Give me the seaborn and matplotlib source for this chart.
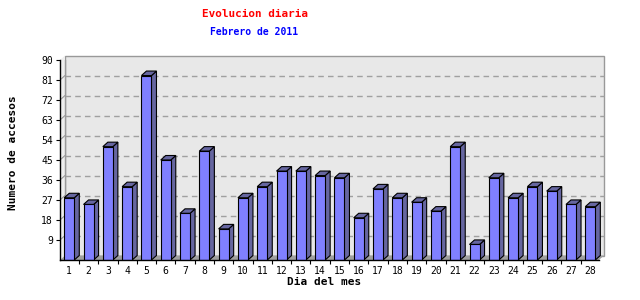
import matplotlib
matplotlib.use("Agg")
import matplotlib.pyplot as plt
import matplotlib.transforms as mtransforms
from matplotlib.patches import Polygon, Rectangle
from matplotlib.lines import Line2D
import numpy as np
import pandas as pd
import seaborn as sns

# ---- data ----
dias = [str(d) for d in range(1, 29)]
accesos = [28, 25, 51, 33, 83, 45, 21, 49, 14, 28, 33, 40, 40, 38,
           37, 19, 32, 28, 26, 22, 51, 7, 37, 28, 33, 31, 25, 24]
yticks = [9, 18, 27, 36, 45, 54, 63, 72, 81, 90]
title = "Evolucion diaria"
subtitle = "Febrero de 2011"
xlabel = "Dia del mes"
ylabel = "Numero de accesos"

sns.set_style("white")
plt.rcParams['font.family'] = ['DejaVu Sans Mono', 'DejaVu Sans']

DPI = 100
fig = plt.figure(figsize=(6.4, 3.0), dpi=DPI)
ax = fig.add_axes([60 / 640, 40 / 300, (599 - 60) / 640, 200 / 300])
ax.set_facecolor("none")

df = pd.DataFrame({"dia": dias, "accesos": accesos})
sns.barplot(data=df, x="dia", y="accesos", order=dias, color="#8080FF",
            saturation=1, edgecolor="black", linewidth=0.8, width=0.52,
            ax=ax, zorder=3)
bars = list(ax.patches)

ax.set_xlim(-0.48, 27.45)
ax.set_ylim(0, 90)

DX, DY = 5.0, 4.5  # depth in pixels
off = mtransforms.ScaledTranslation(DX / DPI, DY / DPI, fig.dpi_scale_trans)
ident = mtransforms.IdentityTransform()

# back wall
ax.add_patch(Rectangle((0, 0), 1, 1, transform=ax.transAxes + off,
                       facecolor="#E8E8E8", edgecolor="#999999", lw=1.0,
                       zorder=0, clip_on=False))
# left side wall
fig.canvas.draw()
p00 = ax.transAxes.transform((0, 0))
p01 = ax.transAxes.transform((0, 1))
p10 = ax.transAxes.transform((1, 0))
d = np.array([DX, DY])
ax.add_patch(Polygon([p00, p01, p01 + d, p00 + d], closed=True,
                     transform=ident, facecolor="#EEEEEE", edgecolor="none",
                     zorder=0.5, clip_on=False))
ax.add_line(Line2D([p00[0] + DX, p01[0] + DX], [p00[1] + DY, p01[1] + DY],
                   transform=ident, color="#999999", lw=1.0, zorder=1))
# floor
ax.add_patch(Polygon([p00, p10, p10 + d, p00 + d], closed=True,
                     transform=ident, facecolor="#A0A0A0", edgecolor="none",
                     zorder=1, clip_on=False))

# gridlines on back wall + diagonal links on side wall
for v in yticks[:-1]:
    ax.add_line(Line2D([0, 1], [v, v], transform=ax.get_yaxis_transform() + off,
                       color="#A0A0A0", lw=1.0, ls=(0, (4, 3)), zorder=1,
                       clip_on=False))
for v in yticks:
    pf = ax.transData.transform((ax.get_xlim()[0], v))
    ax.add_line(Line2D([pf[0], pf[0] + DX], [pf[1], pf[1] + DY],
                       transform=ident, color="#999999", lw=0.8, zorder=1))

# 3D sides and tops of bars
for p in bars:
    x, w, h = p.get_x(), p.get_width(), p.get_height()
    bl = ax.transData.transform((x, 0))
    tr = ax.transData.transform((x + w, h))
    side = [(tr[0], bl[1]), (tr[0], tr[1]), (tr[0] + DX, tr[1] + DY),
            (tr[0] + DX, bl[1] + DY)]
    top = [(bl[0], tr[1]), (tr[0], tr[1]), (tr[0] + DX, tr[1] + DY),
           (bl[0] + DX, tr[1] + DY)]
    for poly in (side, top):
        ax.add_patch(Polygon(poly, closed=True, transform=ident,
                             facecolor="#6666A0", edgecolor="black", lw=0.8,
                             zorder=2.5, clip_on=False))

# spines & ticks
for s in ("top", "right"):
    ax.spines[s].set_visible(False)
for s in ("left", "bottom"):
    ax.spines[s].set_color("black")
    ax.spines[s].set_linewidth(1.0)
    ax.spines[s].set_zorder(4)

ax.set_yticks(yticks)
ax.set_yticklabels([str(v) for v in yticks])
ax.tick_params(axis="y", direction="out", length=3, width=0.8, colors="black",
               labelsize=7, pad=2, left=True)
ax.set_xticks(range(len(dias)))
ax.set_xticklabels(dias)
ax.tick_params(axis="x", which="major", length=0, labelsize=7, pad=4,
               colors="black")
ax.set_xticks(np.arange(0.5, len(dias) - 1, 1.0), minor=True)
ax.tick_params(axis="x", which="minor", length=3, width=0.8, direction="out",
               bottom=True, color="black")
ax.set_xlabel("")
ax.set_ylabel("")

fig.text(255 / 640, 1 - 14 / 300, title, color="#FF0000", fontsize=7.9,
         fontweight="bold", ha="center", va="center")
fig.text(254 / 640, 1 - 32.3 / 300, subtitle, color="#0000FF", fontsize=7,
         fontweight="bold", ha="center", va="center")
fig.text(324 / 640, 1 - 281.7 / 300, xlabel, color="black", fontsize=8,
         fontweight="bold", ha="center", va="center")
fig.text(13 / 640, 1 - 152.5 / 300, ylabel, color="black", fontsize=8,
         fontweight="bold", ha="center", va="center", rotation=90)

fig.savefig("out.png", dpi=DPI, facecolor="white")
